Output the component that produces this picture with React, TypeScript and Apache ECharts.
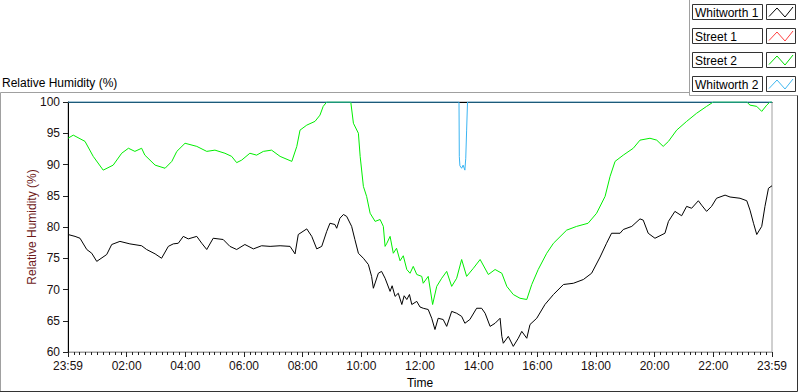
import React, { useEffect, useRef } from "react";
import * as echarts from "echarts";

const seriesNames = ["Whitworth 1", "Street 1", "Street 2", "Whitworth 2"];
const seriesColors = ["#000000", "#ff3030", "#00ee00", "#3ab4f2"];
const legendIconColors = ["#000000", "#ff4040", "#00dd00", "#40b8f0"];

const xTickHours = [0, 2, 4, 6, 8, 10, 12, 14, 16, 18, 20, 22, 24];
const yMin = 60;
const yMax = 100;
const yStep = 5;

const whitworth1: [number, number][] = [
  [0, 78.8], [0.24, 78.5], [0.41, 78.2], [0.64, 76.4], [0.81, 75.8], [0.98, 74.5],
  [1.32, 75.6], [1.49, 77.2], [1.77, 77.7], [2.11, 77.3], [2.51, 77.0], [2.68, 76.4],
  [2.97, 75.7], [3.19, 75.0], [3.42, 76.9], [3.59, 77.3], [3.76, 77.4], [3.93, 78.5],
  [4.10, 78.1], [4.39, 78.5], [4.56, 77.4], [4.73, 76.4], [4.95, 78.2], [5.29, 78.0],
  [5.52, 76.9], [5.75, 76.4], [6.03, 77.2], [6.32, 76.5], [6.60, 77.0], [6.89, 76.9],
  [7.23, 77.0], [7.57, 76.9], [7.74, 75.7], [7.85, 78.8], [8.14, 79.7], [8.31, 78.5],
  [8.48, 76.5], [8.65, 76.9], [8.82, 79.3], [8.93, 80.6], [9.10, 80.4], [9.16, 79.8],
  [9.27, 81.4], [9.39, 82.0], [9.50, 81.7], [9.67, 80.1], [9.78, 78.0], [9.90, 75.8],
  [10.07, 75.0], [10.24, 74.0], [10.35, 72.1], [10.41, 70.2], [10.58, 72.6], [10.69, 72.9],
  [10.81, 71.8], [10.98, 69.7], [11.05, 70.6], [11.15, 68.9], [11.26, 69.4], [11.38, 67.6],
  [11.46, 69.0], [11.55, 68.4], [11.64, 69.2], [11.72, 67.6], [11.89, 68.1], [12.0, 67.2],
  [12.11, 67.0], [12.28, 66.8], [12.40, 65.4], [12.51, 63.6], [12.62, 65.4], [12.79, 65.2],
  [12.91, 64.1], [13.08, 66.5], [13.25, 66.2], [13.42, 65.7], [13.53, 64.6], [13.70, 65.2],
  [13.93, 67.0], [14.10, 67.0], [14.22, 66.2], [14.39, 64.1], [14.56, 64.6], [14.73, 65.4],
  [14.79, 62.5], [14.84, 61.4], [15.01, 62.5], [15.18, 60.9], [15.35, 62.2], [15.47, 63.3],
  [15.64, 62.2], [15.75, 64.4], [15.98, 65.4], [16.26, 67.6], [16.55, 69.2], [16.89, 70.8],
  [17.23, 71.0], [17.57, 71.6], [17.85, 72.6], [18.14, 75.2], [18.36, 77.4], [18.53, 79.0],
  [18.82, 79.0], [18.93, 79.6], [19.22, 80.1], [19.50, 81.3], [19.61, 81.1], [19.78, 79.0],
  [20.01, 78.2], [20.35, 79.0], [20.47, 80.9], [20.69, 82.5], [20.92, 81.8], [21.09, 83.3],
  [21.26, 83.0], [21.49, 84.2], [21.60, 83.5], [21.77, 82.5], [21.94, 83.3], [22.11, 84.6],
  [22.40, 85.1], [22.57, 84.8], [22.91, 84.6], [23.14, 84.2], [23.25, 82.7], [23.37, 80.6],
  [23.48, 78.8], [23.65, 80.1], [23.76, 83.3], [23.88, 86.2], [24, 86.6],
];

const street1: [number, number][] = [];

const street2: [number, number][] = [
  [0, 94.2], [0.18, 94.7], [0.58, 93.7], [0.86, 91.3], [1.20, 89.1], [1.54, 89.9],
  [1.83, 91.8], [2.06, 92.6], [2.28, 92.1], [2.51, 92.6], [2.62, 91.5], [2.97, 89.9],
  [3.31, 89.4], [3.54, 90.5], [3.71, 92.1], [3.99, 93.4], [4.39, 92.9], [4.73, 92.1],
  [5.01, 92.3], [5.35, 91.8], [5.58, 91.3], [5.75, 90.3], [5.92, 90.7], [6.20, 91.8],
  [6.43, 91.5], [6.66, 92.1], [6.94, 92.3], [7.23, 91.3], [7.63, 90.5], [7.80, 92.9],
  [7.91, 95.5], [8.14, 96.3], [8.42, 96.9], [8.59, 97.9], [8.70, 99.3], [8.82, 100],
  [9.64, 100], [9.73, 96.6], [9.90, 95.0], [9.96, 91.3], [10.07, 86.5], [10.18, 84.9],
  [10.30, 82.2], [10.47, 80.9], [10.64, 81.2], [10.75, 80.1], [10.81, 76.9], [10.87, 77.4],
  [10.98, 78.5], [11.09, 75.8], [11.20, 76.6], [11.32, 74.6], [11.43, 75.4], [11.55, 73.2],
  [11.66, 72.6], [11.77, 73.7], [11.89, 72.4], [12.06, 72.1], [12.11, 71.0], [12.28, 72.1],
  [12.43, 67.6], [12.57, 70.5], [12.74, 71.8], [12.91, 72.9], [13.08, 70.5], [13.25, 71.8],
  [13.42, 74.8], [13.59, 72.1], [13.82, 73.4], [14.05, 74.8], [14.33, 72.4], [14.56, 73.2],
  [14.79, 72.6], [14.96, 70.5], [15.18, 69.2], [15.41, 68.6], [15.64, 68.4], [15.81, 70.8],
  [16.03, 73.2], [16.32, 75.8], [16.55, 77.4], [17.00, 79.5], [17.34, 80.1], [17.73, 80.6],
  [18.02, 82.2], [18.31, 84.9], [18.48, 88.1], [18.65, 90.5], [18.93, 91.5], [19.27, 92.6],
  [19.50, 93.9], [19.84, 94.2], [20.07, 93.9], [20.29, 92.9], [20.47, 93.7], [20.75, 95.5],
  [21.09, 96.9], [21.43, 98.2], [21.77, 99.3], [22.00, 100], [23.14, 100], [23.25, 99.5],
  [23.48, 99.3], [23.65, 98.5], [23.82, 99.5], [23.93, 100], [24, 100],
];

const whitworth2: [number, number][] = [
  [0, 100], [13.33, 100], [13.34, 91.3], [13.36, 89.8], [13.42, 89.4], [13.47, 89.9],
  [13.53, 89.1], [13.56, 91.0], [13.59, 95.5], [13.62, 100], [24, 100],
];

const seriesData = [whitworth1, street1, street2, whitworth2];

const FONT = "Liberation Sans";

function fmtHour(v: number): string {
  if (v === xTickHours[0] || v === xTickHours[xTickHours.length - 1]) return "23:59";
  return String(v).padStart(2, "0") + ":00";
}

export default function App() {
  const ref = useRef<HTMLDivElement>(null);
  useEffect(() => {
    document.body.style.margin = "0";
    if (!ref.current) return;
    const chart = echarts.init(ref.current, undefined, { renderer: "svg" });

    const legendGraphics: any[] = [];
    seriesNames.forEach((name, i) => {
      const t = 4 + i * 24;
      legendGraphics.push(
        { type: "rect", shape: { x: 692.5, y: t + 0.5, width: 70, height: 15 }, style: { fill: "#fff", stroke: "#333", lineWidth: 1 } },
        { type: "text", x: 695, y: t + 8.5, style: { text: name, fill: "#000", font: `12px "${FONT}"`, verticalAlign: "middle" } },
        { type: "rect", shape: { x: 766.5, y: t + 0.5, width: 29, height: 15 }, style: { fill: "#fff", stroke: "#333", lineWidth: 1 } },
        {
          type: "polyline",
          shape: { points: [[769, t + 12.5], [777, t + 4], [785, t + 13], [793, t + 3]] },
          style: { stroke: legendIconColors[i], lineWidth: 1, fill: "none" },
        }
      );
    });

    chart.setOption({
      animation: false,
      backgroundColor: "#ffffff",
      grid: {
        left: 68, top: 102, right: 28, bottom: 40,
        containLabel: false, outerBoundsMode: "none",
        show: true, borderColor: "#a0a0a0", borderWidth: 1, backgroundColor: "transparent",
      },
      xAxis: [
        {
          type: "value",
          min: xTickHours[0],
          max: xTickHours[xTickHours.length - 1],
          interval: 2,
          name: "Time",
          nameLocation: "middle",
          nameGap: 25,
          nameMoveOverlap: false,
          nameTextStyle: { color: "#000", fontFamily: FONT, fontSize: 12 },
          axisLine: { show: true, lineStyle: { color: "#a0a0a0", width: 1 } },
          axisTick: { show: true, length: 5, lineStyle: { color: "#222" } },
          minorTick: { show: true, splitNumber: 10, length: 3, lineStyle: { color: "#222" } },
          axisLabel: { formatter: fmtHour, color: "#201010", fontFamily: FONT, fontSize: 12, margin: 8, showMinLabel: true, showMaxLabel: true },
          splitLine: { show: false },
        },
        {
          type: "value",
          position: "top",
          min: xTickHours[0],
          max: xTickHours[xTickHours.length - 1],
          axisLine: { show: true, lineStyle: { color: "#000", width: 1 } },
          axisTick: { show: false },
          axisLabel: { show: false },
          splitLine: { show: false },
        },
      ],
      yAxis: {
        type: "value",
        min: yMin,
        max: yMax,
        interval: yStep,
        name: "Relative Humidity (%)",
        nameLocation: "middle",
        nameGap: 30,
        nameMoveOverlap: false,
        nameTextStyle: { color: "#6e1a1a", fontFamily: FONT, fontSize: 12 },
        axisLine: { show: true, lineStyle: { color: "#000", width: 1 } },
        axisTick: { show: true, length: 5, lineStyle: { color: "#222" } },
        axisLabel: { color: "#201010", fontFamily: FONT, fontSize: 12, margin: 8 },
        splitLine: { show: false },
      },
      series: seriesNames.map((name, i) => ({
        name,
        type: "line",
        xAxisIndex: 0,
        data: seriesData[i],
        showSymbol: false,
        symbol: "none",
        lineStyle: { color: seriesColors[i], width: 1 },
        itemStyle: { color: seriesColors[i] },
        clip: true,
        silent: true,
      })),
      graphic: [
        { type: "text", left: 2, top: 77, style: { text: "Relative Humidity (%)", fill: "#000", font: `12px "${FONT}"` } },
        { type: "polyline", shape: { points: [[0.5, 392], [0.5, 92.5], [689.5, 92.5]] }, style: { stroke: "#a0a0a0", lineWidth: 1, fill: "none" } },
        { type: "polyline", shape: { points: [[689.5, 0], [689.5, 95.5], [797.5, 95.5]] }, style: { stroke: "#a0a0a0", lineWidth: 1, fill: "none" } },
        { type: "polyline", shape: { points: [[797.5, 95.5], [797.5, 391.5], [0, 391.5]] }, style: { stroke: "#333", lineWidth: 1, fill: "none" } },
        ...legendGraphics,
      ],
    });
    return () => chart.dispose();
  }, []);
  return <div ref={ref} style={{ width: 800, height: 392 }} />;
}
